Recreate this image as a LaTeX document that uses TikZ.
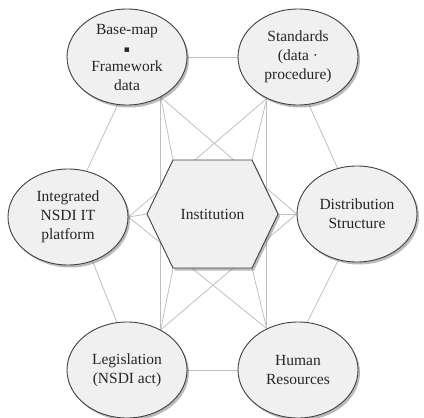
\documentclass[tikz,border=0pt]{standalone}
\usepackage{fontspec}
\setmainfont{Liberation Serif}
\newfontfamily\symfont{DejaVu Sans}
\usetikzlibrary{shapes.geometric,shadows,backgrounds}
\begin{document}
\begin{tikzpicture}[x=1pt,y=-1pt,
  softshadow/.style={drop shadow={shadow xshift=2pt, shadow yshift=-2.5pt, opacity=0.45, fill=black!60}},
  bubble/.style={ellipse, draw=black!75, line width=0.9pt, fill=black!6,
    minimum width=120pt, minimum height=96pt, inner sep=0pt, align=center,
    font=\fontsize{15.5}{19}\selectfont, text=black!85, softshadow},
  hexbox/.style={draw=black!75, line width=0.9pt, fill=black!6, softshadow},
  label/.style={font=\fontsize{15.5}{19}\selectfont, text=black!85},
  link/.style={draw=black!25, line width=0.8pt}]
\useasboundingbox (0,0) rectangle (424,418);

% six component ellipses
\node[bubble] (bm) at (127,57) {Base-map\\[-1pt]{\symfont\fontsize{9}{9}\selectfont ▪}\\Framework\\data};
\node[bubble] (st) at (298,57) {Standards\\(data ·\\procedure)};
\node[bubble] (it) at (68,217) {Integrated\\NSDI IT\\platform};
\node[bubble] (ds) at (357,214) {Distribution\\Structure};
\node[bubble] (lg) at (127,370) {Legislation\\(NSDI act)};
\node[bubble] (hu) at (298,370) {Human\\Resources};

% central hexagon
\coordinate (hxl)  at (147,214);
\coordinate (hxtl) at (173,160);
\coordinate (hxtr) at (252,160);
\coordinate (hxr)  at (278,214);
\coordinate (hxbr) at (252,268);
\coordinate (hxbl) at (173,268);
\draw[hexbox] (hxl) -- (hxtl) -- (hxtr) -- (hxr) -- (hxbr) -- (hxbl) -- cycle;
\node[label] (inst) at (212.5,214) {Institution};

% connectors behind everything
\begin{scope}[on background layer]
  % outer ring
  \draw[link] (bm.east) -- (st.west);
  \draw[link] (st.-77) -- (ds.113);
  \draw[link] (ds.-112.6) -- (hu.79);
  \draw[link] (hu.west) -- (lg.east);
  \draw[link] (lg.102) -- (it.-61.6);
  \draw[link] (it.68.6) -- (bm.-101.5);
  % verticals
  \draw[link] (bm.-50.5) -- (lg.50);
  \draw[link] (st.-127) -- (hu.127.6);
  % to the hexagon
  \draw[link] (bm.-50.5) -- (hxtl);
  \draw[link] (st.-127) -- (hxtr);
  \draw[link] (it.east) -- (hxl);
  \draw[link] (ds.west) -- (hxr);
  \draw[link] (lg.50) -- (hxbl);
  \draw[link] (hu.127.6) -- (hxbr);
  % crossing diagonals
  \draw[link] (bm.-50.5) -- (ds.west);
  \draw[link] (st.-127) -- (it.east);
  \draw[link] (it.east) -- (hu.127.6);
  \draw[link] (lg.50) -- (ds.west);
\end{scope}
\end{tikzpicture}
\end{document}
